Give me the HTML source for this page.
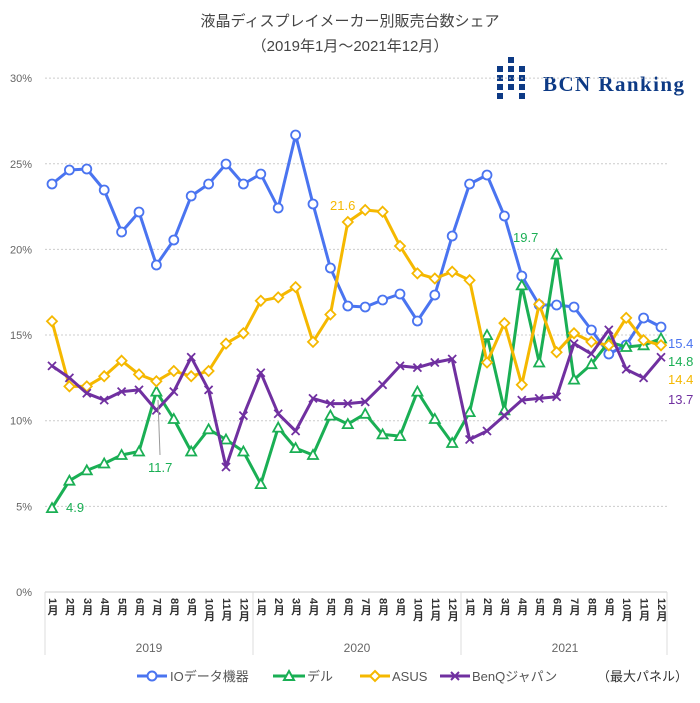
<!DOCTYPE html>
<html><head><meta charset="utf-8"><style>
body{margin:0;background:#fff;}
svg text{font-family:"Liberation Sans","Noto Sans CJK JP",sans-serif;}
</style></head><body>
<svg id="c" width="700" height="698" xmlns="http://www.w3.org/2000/svg">
<rect width="700" height="698" fill="#fff"/>
<text x="350" y="26" text-anchor="middle" font-size="15" fill="#444">液晶ディスプレイメーカー別販売台数シェア</text>
<text x="350" y="51" text-anchor="middle" font-size="15" fill="#444">（2019年1月～2021年12月）</text>
<g fill="#0d3a85">
<rect x="508" y="57" width="6" height="6"/>
<rect x="497" y="66" width="6" height="6"/><rect x="508" y="66" width="6" height="6"/><rect x="519" y="66" width="6" height="6"/>
<rect x="497" y="75" width="6" height="6"/><rect x="508" y="75" width="6" height="6"/><rect x="519" y="75" width="6" height="6"/>
<rect x="497" y="84" width="6" height="6"/><rect x="508" y="84" width="6" height="6"/><rect x="519" y="84" width="6" height="6"/>
<rect x="497" y="93" width="6" height="6"/><rect x="519" y="93" width="6" height="6"/>
<text x="543" y="91" font-size="21" font-weight="bold" textLength="141" lengthAdjust="spacing" style="font-family:'Liberation Serif',serif">BCN Ranking</text>
</g>
<g id="grid"></g>
<g id="series"></g>
<text x="668" y="348" font-size="13" fill="#4a74f0">15.4</text>
<text x="668" y="366" font-size="13" fill="#1aaf54">14.8</text>
<text x="668" y="384" font-size="13" fill="#f5b800">14.4</text>
<text x="668" y="404" font-size="13" fill="#7030a0">13.7</text>
<text x="330" y="210" font-size="13" fill="#f5b800">21.6</text>
<text x="513" y="242" font-size="13" fill="#1aaf54">19.7</text>
<text x="66" y="512" font-size="13" fill="#1aaf54">4.9</text>
<text x="148" y="472" font-size="13" fill="#1aaf54">11.7</text>
<line x1="160" y1="455" x2="158" y2="400" stroke="#999" stroke-width="1"/>
<g font-size="13" fill="#555">
<line x1="137" y1="676" x2="167" y2="676" stroke="#4a74f0" stroke-width="3"/><circle cx="152" cy="676" r="4.5" fill="#fff" stroke="#4a74f0" stroke-width="2"/>
<text x="170" y="681">IOデータ機器</text>
<line x1="273" y1="676" x2="305" y2="676" stroke="#1aaf54" stroke-width="3"/><polygon points="289,671 294,680 284,680" fill="#fff" stroke="#1aaf54" stroke-width="2"/>
<text x="307" y="681">デル</text>
<line x1="360" y1="676" x2="390" y2="676" stroke="#f5b800" stroke-width="3"/><polygon points="375,671 380,676 375,681 370,676" fill="#fff" stroke="#f5b800" stroke-width="2"/>
<text x="392" y="681">ASUS</text>
<line x1="440" y1="676" x2="470" y2="676" stroke="#7030a0" stroke-width="3"/><path d="M451 672l8 8M459 672l-8 8" stroke="#7030a0" stroke-width="2"/>
<text x="472" y="681">BenQジャパン</text>
<text x="597" y="681" fill="#333">（最大パネル）</text>
</g>
</svg>
<script>
var ns="http://www.w3.org/2000/svg";
function el(p,t,a,txt){var e=document.createElementNS(ns,t);for(var k in a)e.setAttribute(k,a[k]);if(txt!=null)e.textContent=txt;p.appendChild(e);return e;}
var g=document.getElementById('grid'),s=document.getElementById('series');
var y0=592,u=17.13;
for(var i=0;i<=6;i++){var y=y0-i*5*u;
 if(i>0)el(g,'line',{x1:45,x2:667,y1:y,y2:y,stroke:'#ccc','stroke-dasharray':'2,2'});
 el(g,'text',{x:32,y:y+4,'text-anchor':'end','font-size':11,fill:'#666'},(i*5)+'%');}
el(g,'line',{x1:45,x2:667,y1:y0,y2:y0,stroke:'#ccc'});
[45,253,461,667].forEach(function(x){el(g,'line',{x1:x,x2:x,y1:y0,y2:655,stroke:'#ddd'});});
['2019','2020','2021'].forEach(function(t,i){el(g,'text',{x:149+i*208,y:652,'text-anchor':'middle','font-size':12,fill:'#666'},t);});
var dx=(661-52)/35;
for(var i=0;i<36;i++){var m=(i%12)+1;var x=52+i*dx;
 el(g,'text',{x:x,y:598,'font-size':11,fill:'#333','font-weight':'bold','writing-mode':'tb'},m+'月');}
var vals={
g:[4.9,6.5,7.1,7.5,8.0,8.2,11.7,10.1,8.2,9.5,8.9,8.2, 6.3,9.6,8.4,8.0,10.3,9.8,10.4,9.2,9.1,11.7,10.1,8.7, 10.5,15.0,10.6,17.9,13.4,19.7,12.4,13.3,14.6,14.3,14.4,14.8],
p:[13.2,12.5,11.6,11.2,11.7,11.8,10.6,11.7,13.7,11.8,7.3,10.3, 12.8,10.4,9.4,11.3,11.0,11.0,11.1,12.1,13.2,13.1,13.4,13.6, 8.9,9.4,10.3,11.2,11.3,11.4,14.5,13.9,15.3,13.0,12.5,13.7],
y:[15.8,12.0,12.0,12.6,13.5,12.7,12.3,12.9,12.6,12.9,14.5,15.1, 17.0,17.2,17.8,14.6,16.2,21.6,22.3,22.2,20.2,18.6,18.3,18.7, 18.2,13.4,15.7,12.1,16.8,14.0,15.1,14.6,14.4,16.0,14.7,14.4]};
var data={
b:[184,170,169,190,232,212,265,240,196,184,164,184,174,208,135,204,268,306,307,300,294,321,295,236,184,175,216,276,305,305,307,330,354,345,318,327]};
['g','p','y'].forEach(function(k){data[k]=vals[k].map(function(v){return +(y0-v*u).toFixed(1);});});
var col={b:'#4a74f0',g:'#1aaf54',y:'#f5b800',p:'#7030a0'};
['b','g','y','p'].forEach(function(k){var d=data[k],pts=d.map(function(v,i){return (52+i*dx).toFixed(1)+','+v;}).join(' ');
 el(s,'polyline',{points:pts,fill:'none',stroke:col[k],'stroke-width':3,'stroke-linejoin':'round'});
 d.forEach(function(v,i){var x=52+i*dx;
  if(k=='b')el(s,'circle',{cx:x,cy:v,r:4.5,fill:'#fff',stroke:col[k],'stroke-width':1.8});
  if(k=='g')el(s,'polygon',{points:x+','+(v-5)+' '+(x+5)+','+(v+4)+' '+(x-5)+','+(v+4),fill:'#fff',stroke:col[k],'stroke-width':1.8});
  if(k=='y')el(s,'polygon',{points:x+','+(v-5)+' '+(x+5)+','+v+' '+x+','+(v+5)+' '+(x-5)+','+v,fill:'#fff',stroke:col[k],'stroke-width':1.8});
  if(k=='p')el(s,'path',{d:'M'+(x-4)+' '+(v-4)+'l8 8M'+(x+4)+' '+(v-4)+'l-8 8',stroke:col[k],'stroke-width':1.8});
 });});
</script>
</body></html>
